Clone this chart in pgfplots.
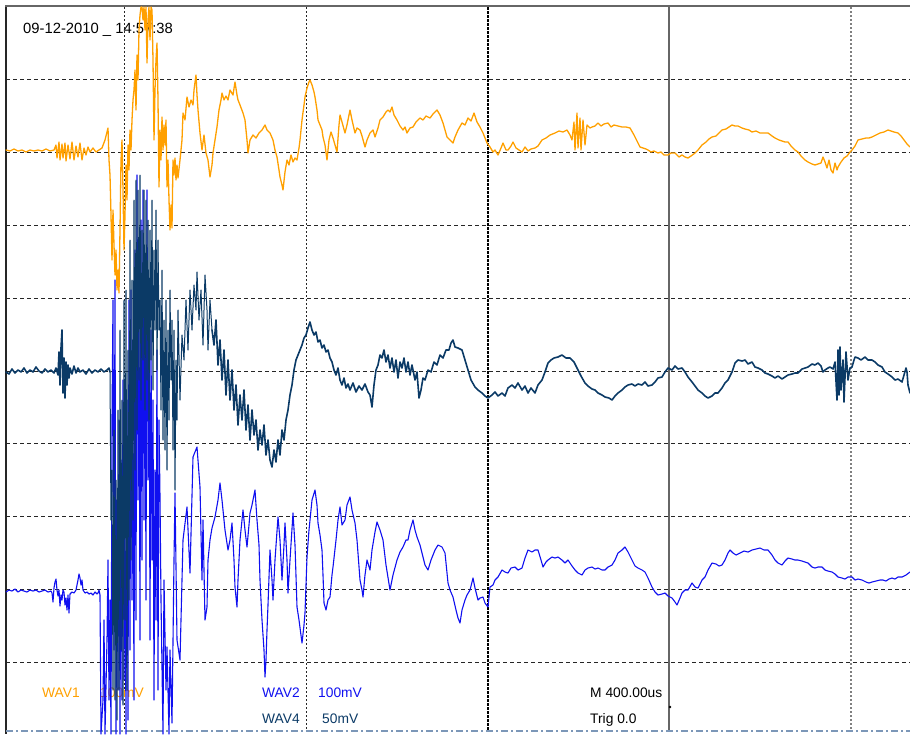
\documentclass[border=0pt]{standalone}
\usepackage{fontspec}
\setmainfont{Liberation Sans}
\usepackage{pgfplots}
\pgfplotsset{compat=1.18}
\definecolor{wav1}{HTML}{FFA000}
\definecolor{wav2}{HTML}{1010F0}
\definecolor{wav4}{HTML}{0B3A66}
\definecolor{bord}{HTML}{7C97B8}
\begin{document}
\begin{tikzpicture}
\begin{axis}[
  width=910pt, height=734pt, scale only axis,
  xmin=0, xmax=910, ymin=0, ymax=734, y dir=reverse,
  axis lines=none, clip=true,
  every axis plot/.append style={line join=round, line cap=round},
]
\path (axis cs:0,0) rectangle (axis cs:910,734);
% grid
\foreach \yy in {79.8,152.6,225.4,298.2,371,443.8,516.6,589.4,662.2}{
  \edef\tmp{\noexpand\draw[black!85, line width=0.9pt, dash pattern=on 4pt off 3pt] (axis cs:6,\yy) -- (axis cs:910,\yy);}\tmp
}
\draw[black!85, line width=0.9pt, dash pattern=on 2pt off 2pt] (axis cs:124,7) -- (axis cs:124,731);
\draw[black!85, line width=0.9pt, dash pattern=on 2pt off 2pt] (axis cs:306,7) -- (axis cs:306,731);
\draw[black, line width=1.6pt, dash pattern=on 3pt off 1pt] (axis cs:488,7) -- (axis cs:488,731);
\draw[black!60, line width=1.6pt] (axis cs:669,7) -- (axis cs:669,731);
\draw[black!50, line width=1.2pt, dash pattern=on 2pt off 2pt] (axis cs:851,7) -- (axis cs:851,731);
\draw[black!85, line width=2pt] (axis cs:5.5,5) -- (axis cs:5.5,734);
\draw[black!60, line width=2pt] (axis cs:5,6) -- (axis cs:910,6);
\draw[bord, line width=1.3pt, dash pattern=on 7pt off 3pt on 2pt off 3pt] (axis cs:6,731) -- (axis cs:910,731);
% texts
\node[anchor=base west, inner sep=0, font=\fontsize{14.8}{16}\selectfont] at (axis cs:23,33.5) {09-12-2010 \_ 14:57:38};
\node[anchor=base west, inner sep=0, text=wav1, font=\fontsize{13.8}{16}\selectfont] at (axis cs:42,697) {WAV1};
\node[anchor=base west, inner sep=0, text=wav1, font=\fontsize{13.8}{16}\selectfont] at (axis cs:100,697) {100mV};
\node[anchor=base west, inner sep=0, text=wav2, font=\fontsize{13.8}{16}\selectfont] at (axis cs:262,697) {WAV2};
\node[anchor=base west, inner sep=0, text=wav2, font=\fontsize{13.8}{16}\selectfont] at (axis cs:318,697) {100mV};
\node[anchor=base west, inner sep=0, text=wav4, font=\fontsize{13.8}{16}\selectfont] at (axis cs:262,723) {WAV4};
\node[anchor=base west, inner sep=0, text=wav4, font=\fontsize{13.8}{16}\selectfont] at (axis cs:322,723) {50mV};
\node[anchor=base west, inner sep=0, font=\fontsize{13.8}{16}\selectfont] at (axis cs:590,697) {M 400.00us};
\node[anchor=base west, inner sep=0, font=\fontsize{13.8}{16}\selectfont] at (axis cs:590,723) {Trig 0.0};
\fill[black] (axis cs:670,707) circle (1.3pt);
% WAV2 (blue)
\addplot[wav2, line width=1.1pt] coordinates {
(6,592)(9,590)(12,591)(15,589)(18,592)(21,590)(24,591)(27,592)(30,590)(33,591)(36,590)(39,592)(42,591)(45,590)(48,592)(51,591)(52,593)(53,602)(54,588)(55,582)(56,579)(57,590)(58,596)(59,590)(60,606)(61,595)(62,600)(63,590)(64,592)(65,605)(66,598)(67,610)(68,595)(69,613)(70,594)(72,592)(74,593)(76,590)(78,580)(79,574)(80,578)(81,585)(82,580)(83,590)(85,593)(87,592)(89,594)(91,593)(93,595)(95,592)(97,594)(98,593)(99,590)(100,595)
(101,734)(103,700)(104,620)(105,734)(107,640)(108,560)(109,700)(110,600)(111,734)(112,420)(113,300)(114,650)(115,280)(116,734)(117,500)(118,690)(119,420)(120,734)(121,460)(122,700)(123,380)(124,680)(125,520)(126,734)(127,400)(128,720)(129,300)(130,650)(131,290)(132,600)(133,420)(134,700)(135,250)(136,620)(137,175)(138,500)(139,300)(140,640)(141,220)(142,560)(143,190)(144,520)(145,260)(146,600)(147,190)(148,480)(149,280)(150,640)(151,330)(152,560)(153,400)(154,700)(155,470)(156,620)(157,350)(158,690)(159,420)(160,497)(161,600)(163,734)(164,580)(166,690)(167,647)(169,734)(170,650)(172,723)(174,560)(175,493)(177,640)(180,660)(183,540)(187,507)(190,573)(193,457)(197,447)(200,487)(202,580)(203,520)(205,620)
(207,607)(208,560)(210,540)(212,528)(215,517)(218,500)(220,483)(222,500)(225,530)(228,550)(230,540)(232,523)(234,560)(235,587)(237,607)(238,580)(240,540)(243,510)(245,530)(247,547)(249,525)(250,513)(252,505)(255,490)(257,520)(259,545)(260,580)(262,620)(264,650)(265,677)(266,660)(267,630)(268,605)(270,550)(272,580)(273,600)(275,560)(278,517)(280,540)(282,580)(284,545)(285,523)(287,560)(288,593)(290,560)(293,513)(295,545)(297,607)(299,620)(302,643)(304,625)(305,613)(307,557)(309,530)(310,520)(312,500)(315,490)(317,505)(318,523)(320,535)(322,550)(323,575)(324,603)(326,610)(328,600)(330,597)(332,575)(333,567)(336,540)(338,520)(340,507)(342,525)(345,520)(347,505)(350,497)(352,510)(355,523)(357,540)(360,580)(362,590)(363,597)(365,575)(367,560)(370,570)(372,550)(375,532)(377,522)(380,530)(383,540)(386,565)(390,590)(393,575)(397,560)(400,552)(403,547)(406,540)(408,540)(410,530)(413,520)(415,530)(417,537)(420,545)(422,553)(425,565)(428,570)(431,560)(435,550)(438,545)(442,547)(445,553)(448,583)(450,590)(453,597)(456,610)(458,618)(460,623)(462,610)(465,600)(467,595)(470,590)(473,578)(475,588)(478,600)(480,598)(483,597)(485,603)(488,607)(490,587)(493,585)(495,580)(498,577)(502,570)(505,572)(508,573)(511,568)(515,567)(518,570)(522,568)(525,558)(528,550)(532,552)(535,550)(538,550)(541,560)(543,567)(546,562)(548,560)(552,557)(555,558)(558,557)(562,560)(565,563)(568,560)(572,566)(575,570)(578,573)(582,575)(585,570)(588,568)(592,567)(595,569)(598,568)(602,570)(605,570)(608,567)(612,565)(615,560)(618,553)(622,550)(625,547)(628,552)(632,560)(635,566)(638,568)(642,570)(645,572)(648,578)(652,587)(655,592)(658,595)(662,594)(665,593)(668,596)(672,598)(675,602)(677,605)(680,598)(682,593)(685,590)(688,590)(692,583)(695,587)(698,588)(702,580)(705,577)(708,570)(712,563)(716,564)(719,566)(722,565)(725,560)(728,553)(730,550)(733,553)(736,555)(740,553)(744,551)(748,552)(752,550)(756,549)(760,548)(764,550)(768,550)(772,555)(775,560)(778,563)(782,565)(785,561)(788,558)(792,559)(795,560)(798,560)(802,561)(805,562)(808,563)(812,567)(815,568)(818,567)(822,567)(825,570)(828,571)(832,572)(835,574)(838,577)(842,578)(845,579)(848,577)(852,577)(855,580)(858,579)(862,580)(866,582)(869,583)(872,582)(876,581)(880,580)(883,580)(886,581)(889,579)(892,578)(895,579)(898,577)(902,577)(906,575)(910,572)
};
% WAV4 (navy): pre-trigger
\addplot[wav4, line width=1.6pt] coordinates {
(6,372)(9,374)(12,369)(15,373)(18,370)(21,372)(24,368)(27,373)(30,370)(33,372)(36,367)(39,371)(42,373)(45,369)(48,372)(51,370)(54,373)(56,368)(58,375)(59,352)(60,385)(61,348)(62,330)(63,393)(64,358)(65,398)(66,362)(67,385)(68,365)(69,378)(70,368)(72,374)(74,366)(76,373)(78,368)(80,372)(83,370)(86,374)(89,369)(92,373)(95,370)(98,372)(101,369)(104,372)(107,370)(109,368)(110,372)
};
% WAV4 (navy): burst
\addplot[wav4, line width=1.0pt] coordinates {
(110,372)(111,520)(112,470)(113,690)(114,430)(115,700)(116,480)(117,720)(118,410)(119,690)(120,330)(121,650)(122,400)(123,705)(124,300)(125,620)(126,290)(127,690)(128,350)(129,600)(130,240)(131,560)(132,280)(133,520)(134,200)(135,470)(136,180)(137,430)(138,190)(139,380)(140,175)(141,400)(142,230)(143,360)(144,190)(145,410)(146,200)(147,380)(148,220)(149,420)(150,230)(151,360)(152,200)(153,390)(154,250)(155,330)(156,210)(157,370)(158,240)(159,330)
(160,300)(161,410)(162,270)(163,440)(164,320)(165,450)(166,300)(167,470)(168,330)(169,420)(170,290)(171,380)(172,320)(173,450)(174,330)(175,490)(176,360)(177,420)(178,310)(180,400)(182,335)(184,360)(186,300)(188,350)(190,290)(192,330)(194,285)(196,310)(197,272)(199,320)(201,290)(203,345)(205,275)(207,310)(208,350)(210,300)(212,330)
};
% WAV4 (navy): decay
\addplot[wav4, line width=1.6pt] coordinates {
(212,330)(214,345)(216,320)(218,365)(220,340)(222,380)(224,350)(226,395)(228,360)(230,400)(232,370)(234,410)(236,385)(238,425)(240,395)(242,420)(244,390)(246,430)(248,405)(250,440)(252,410)(254,435)(256,420)(258,450)(260,430)(262,445)(264,425)(266,455)(268,440)(270,460)(272,467)(274,450)(276,462)(278,440)(280,455)(282,430)(284,440)(286,420)(288,410)(290,395)(292,385)(294,370)(296,360)(298,355)(300,350)(302,345)(304,338)(306,335)(308,328)(310,322)(312,330)(314,335)(316,332)(318,342)(320,340)(322,348)(324,345)(326,352)(328,350)(330,358)(332,362)(334,370)(336,375)(338,368)(340,380)(342,385)(344,378)(346,388)(348,384)(350,390)(353,383)(356,392)(359,386)(362,390)(365,384)(368,392)(370,395)(372,407)(374,385)(376,370)(378,365)(380,355)(382,358)(384,350)(386,362)(388,355)(390,368)(392,358)(394,372)(396,360)(398,378)(400,362)(402,368)(404,358)(406,372)(408,362)(410,375)(412,365)(415,380)(417,372)(419,398)(421,390)(423,378)(425,380)(428,370)(431,372)(434,362)(437,365)(440,355)(443,358)(446,350)(449,350)(451,343)(453,340)(455,347)(458,348)(462,350)(465,360)(468,370)(471,380)(475,387)(478,390)(482,393)(485,396)(488,398)(492,395)(495,392)(498,396)(502,393)(505,396)(508,388)(512,385)(515,388)(518,383)(522,390)(525,386)(528,393)(531,388)(535,393)(538,385)(542,380)(545,372)(548,363)(551,360)(554,358)(558,357)(562,355)(566,358)(570,358)(574,362)(578,370)(581,376)(585,383)(588,386)(592,389)(595,390)(598,393)(602,395)(605,397)(609,398)(612,400)(615,396)(618,393)(622,390)(625,387)(628,385)(632,384)(635,386)(638,384)(642,385)(645,382)(648,386)(652,385)(655,382)(658,378)(662,377)(665,372)(668,368)(672,370)(675,366)(678,369)(682,368)(685,372)(688,377)(692,382)(695,386)(698,390)(702,393)(705,396)(708,398)(712,396)(715,393)(718,393)(722,388)(725,383)(728,380)(732,372)(735,363)(738,360)(742,361)(745,360)(748,364)(752,362)(755,367)(758,368)(762,370)(765,373)(768,374)(772,376)(775,378)(778,376)(782,379)(785,377)(788,375)(792,374)(795,373)(798,373)(802,369)(805,368)(808,367)(812,364)(815,365)(818,363)(821,366)(823,372)(825,370)(828,368)(830,367)(833,369)(835,362)(837,400)(838,350)(839,395)(840,347)(841,390)(843,360)(844,402)(846,352)(848,380)(850,368)(852,367)(854,360)(855,357)(858,358)(861,360)(865,357)(868,360)(872,360)(875,362)(878,365)(882,367)(885,372)(888,374)(892,377)(895,380)(898,379)(902,382)(904,375)(906,368)(907,372)(908,385)(910,393)
};
% WAV1 (orange)
\addplot[wav1, line width=1.3pt] coordinates {
(6,150)(10,151)(14,149)(18,151)(22,150)(26,152)(30,150)(34,151)(38,150)(42,151)(46,149)(50,151)(54,150)(56,145)(57,158)(59,142)(60,160)(62,144)(63,158)(65,143)(66,161)(68,145)(70,159)(72,142)(74,160)(76,146)(78,157)(80,143)(82,160)(84,148)(86,155)(88,147)(90,152)(93,148)(96,152)(99,150)(102,148)(105,140)(108,128)(109,160)(110,175)(111,215)(112,260)(113,210)(114,245)(115,275)(116,250)(117,290)(118,270)(119,293)(120,230)(121,160)(122,140)(123,190)(124,250)(125,215)(126,165)(127,200)(128,145)(129,170)(130,130)(131,150)(132,120)(133,100)(134,90)(135,70)(136,110)(137,55)(138,80)(139,30)(140,15)(141,7)(142,7)(143,20)(144,7)(145,30)(146,7)(147,63)(148,20)(149,7)(150,40)(151,7)(152,10)(153,60)(154,140)(155,90)(156,60)(157,43)(158,100)(159,187)(160,130)(161,160)(162,117)(163,150)(164,125)(165,145)(166,120)(167,187)(168,160)(169,200)(170,230)(171,205)(172,228)(173,160)(174,175)(175,158)(176,180)(177,165)(178,178)(180,160)(182,140)(183,113)(185,120)(187,97)(189,107)(191,100)(193,105)(194,90)(196,75)(197,95)(198,110)(200,133)(202,150)(204,135)(206,153)(208,160)(210,177)(212,165)(213,153)(215,140)(217,127)(219,110)(221,100)(222,93)(224,100)(226,96)(228,100)(230,90)(233,95)(235,82)(237,95)(238,100)(240,105)(243,113)(245,120)(247,140)(248,153)(250,140)(253,135)(256,138)(259,133)(262,130)(265,125)(267,130)(270,133)(273,140)(275,150)(277,157)(279,170)(280,177)(282,185)(283,190)(285,172)(287,160)(289,165)(291,155)(293,162)(295,158)(297,160)(299,148)(300,140)(302,120)(304,105)(305,97)(307,88)(309,82)(310,80)(312,85)(314,92)(315,97)(317,110)(318,120)(320,125)(322,130)(323,137)(325,145)(327,160)(329,140)(331,132)(333,138)(335,145)(337,152)(339,125)(340,115)(342,122)(345,133)(347,125)(350,110)(352,120)(355,133)(357,128)(360,130)(362,136)(365,147)(367,140)(370,133)(373,130)(375,137)(378,128)(380,120)(383,117)(386,112)(388,110)(390,112)(392,107)(394,115)(397,120)(400,126)(403,130)(405,127)(407,133)(410,128)(413,127)(416,122)(420,118)(423,120)(426,116)(430,118)(433,114)(437,110)(440,115)(443,123)(445,130)(447,137)(450,140)(453,143)(455,137)(458,130)(462,123)(465,125)(468,118)(471,121)(474,113)(477,122)(480,127)(483,133)(487,143)(490,147)(493,152)(495,150)(498,155)(501,148)(503,143)(506,150)(508,150)(511,146)(513,142)(516,148)(519,150)(522,152)(525,147)(528,151)(531,149)(535,148)(538,146)(542,140)(546,138)(550,135)(555,133)(559,131)(563,132)(567,130)(570,135)(572,140)(574,122)(575,150)(577,113)(578,148)(580,118)(581,150)(583,120)(585,145)(587,125)(590,128)(592,127)(595,126)(598,123)(601,126)(604,124)(608,123)(611,127)(614,125)(618,126)(622,127)(626,127)(630,128)(634,135)(637,141)(640,147)(643,148)(646,149)(648,150)(651,152)(654,151)(658,153)(661,152)(664,155)(668,155)(671,153)(675,153)(679,157)(682,155)(685,157)(688,158)(691,156)(695,153)(698,150)(702,145)(706,142)(709,139)(712,137)(716,136)(719,133)(722,130)(726,129)(729,127)(732,125)(735,126)(738,126)(742,128)(745,129)(749,130)(752,132)(756,131)(760,133)(764,133)(768,133)(772,136)(775,138)(779,140)(782,141)(785,142)(788,142)(791,146)(795,150)(798,152)(801,156)(805,160)(808,162)(812,164)(815,165)(818,164)(821,163)(823,157)(825,162)(827,168)(829,160)(831,170)(833,173)(835,163)(837,170)(838,167)(841,162)(844,158)(847,156)(850,152)(852,150)(855,146)(858,140)(862,139)(866,138)(869,138)(872,137)(876,135)(880,133)(884,132)(888,130)(891,131)(894,132)(898,133)(901,136)(904,140)(907,144)(910,147)
};
\end{axis}
\end{tikzpicture}
\end{document}
